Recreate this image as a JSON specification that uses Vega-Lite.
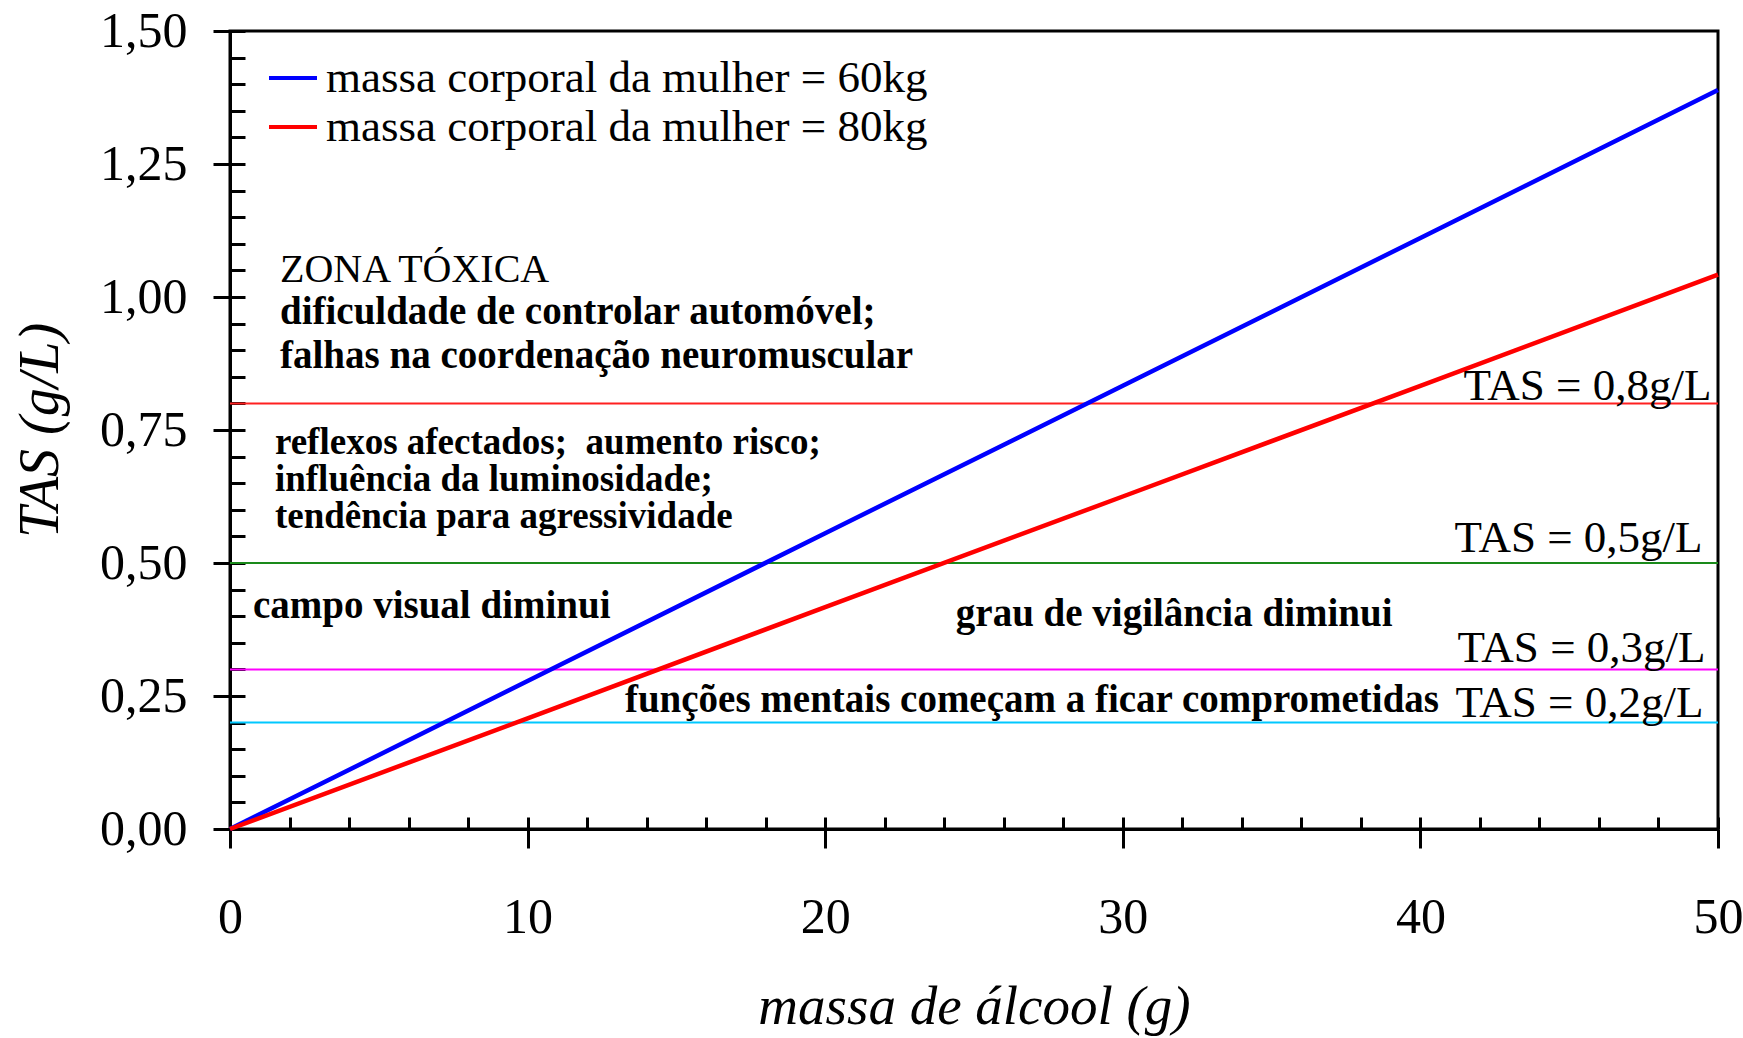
{
  "$schema": "https://vega.github.io/schema/vega-lite/v6.json",
  "width": 1488,
  "height": 798,
  "autosize": "none",
  "padding": {"left": 230, "top": 31, "right": 25, "bottom": 209},
  "background": "white",
  "config": {
    "view": {"stroke": "black", "strokeWidth": 3},
    "font": "Liberation Serif",
    "axis": {"grid": false, "domainColor": "black", "tickColor": "black", "labelColor": "black", "titleColor": "black", "domainWidth": 3, "tickWidth": 3, "labelFont": "Liberation Serif", "titleFont": "Liberation Serif", "titleFontWeight": "normal"}
  },
  "datasets": {
    "series": [
      {"mass": 0, "tas": 0, "s": "massa corporal da mulher = 60kg"},
      {"mass": 10, "tas": 0.278, "s": "massa corporal da mulher = 60kg"},
      {"mass": 20, "tas": 0.556, "s": "massa corporal da mulher = 60kg"},
      {"mass": 30, "tas": 0.833, "s": "massa corporal da mulher = 60kg"},
      {"mass": 40, "tas": 1.111, "s": "massa corporal da mulher = 60kg"},
      {"mass": 50, "tas": 1.389, "s": "massa corporal da mulher = 60kg"},
      {"mass": 0, "tas": 0, "s": "massa corporal da mulher = 80kg"},
      {"mass": 10, "tas": 0.208, "s": "massa corporal da mulher = 80kg"},
      {"mass": 20, "tas": 0.417, "s": "massa corporal da mulher = 80kg"},
      {"mass": 30, "tas": 0.625, "s": "massa corporal da mulher = 80kg"},
      {"mass": 40, "tas": 0.833, "s": "massa corporal da mulher = 80kg"},
      {"mass": 50, "tas": 1.042, "s": "massa corporal da mulher = 80kg"}
    ],
    "limits": [
      {"v": 0.8, "c": "#ff2020", "t": "TAS = 0,8g/L", "tx": 49.78, "ty": 0.806},
      {"v": 0.5, "c": "#1a8a1a", "t": "TAS = 0,5g/L", "tx": 49.48, "ty": 0.5207},
      {"v": 0.3, "c": "#ff00ff", "t": "TAS = 0,3g/L", "tx": 49.58, "ty": 0.314},
      {"v": 0.2, "c": "#00c8ff", "t": "TAS = 0,2g/L", "tx": 49.51, "ty": 0.2105}
    ],
    "notes": [
      {"t": "dificuldade de controlar automóvel;", "x": 1.68, "y": 0.9718},
      {"t": "falhas na coordenação neuromuscular", "x": 1.68, "y": 0.889},
      {"t": "campo visual diminui", "x": 0.77, "y": 0.419},
      {"t": "grau de vigilância diminui", "x": 24.39, "y": 0.404},
      {"t": "funções mentais começam a ficar comprometidas", "x": 13.27, "y": 0.2425}
    ],
    "block": [
      {"t": "reflexos afectados;\u00a0 aumento risco;\ninfluência da luminosidade;\ntendência para agressividade", "x": 1.51, "y": 0.726}
    ],
    "zone": [
      {"t": "ZONA TÓXICA", "x": 1.68, "y": 1.0508}
    ]
  },
  "resolve": {"axis": {"x": "independent", "y": "independent"}},
  "layer": [
    {
      "data": {"name": "limits"},
      "mark": {"type": "rule", "strokeWidth": 2},
      "encoding": {
        "y": {"field": "v", "type": "quantitative", "scale": {"domain": [0, 1.5], "nice": false, "zero": false},
          "axis": {"orient": "left", "values": [0, 0.05, 0.1, 0.15, 0.2, 0.25, 0.3, 0.35, 0.4, 0.45, 0.5, 0.55, 0.6, 0.65, 0.7, 0.75, 0.8, 0.85, 0.9, 0.95, 1.0, 1.05, 1.1, 1.15, 1.2, 1.25, 1.3, 1.35, 1.4, 1.45, 1.5], "tickSize": -15, "labels": false, "domain": false, "title": null}},
        "stroke": {"field": "c", "type": "nominal", "scale": null}
      }
    },
    {
      "data": {"name": "series"},
      "mark": {"type": "line", "strokeWidth": 4.5},
      "encoding": {
        "x": {"field": "mass", "type": "quantitative", "scale": {"domain": [0, 50], "nice": false},
          "axis": {"orient": "bottom", "values": [0, 10, 20, 30, 40, 50], "tickSize": 19, "labelFontSize": 50, "labelPadding": 44, "labelFlush": false, "labelOverlap": false, "title": "massa de álcool  (g)", "titleFontSize": 55, "titleFontStyle": "italic", "titlePadding": 38}},
        "y": {"field": "tas", "type": "quantitative", "scale": {"domain": [0, 1.5], "nice": false},
          "axis": {"orient": "left", "values": [0, 0.25, 0.5, 0.75, 1.0, 1.25, 1.5], "tickSize": 17, "labelFontSize": 50, "labelPadding": 26, "labelFlush": false, "labelOverlap": false, "labelExpr": "replace(format(datum.value, '.2f'), '.', ',')", "title": "TAS  (g/L)", "titleFontSize": 56, "titleFontStyle": "italic", "titlePadding": 30}},
        "color": {"field": "s", "type": "nominal",
          "scale": {"domain": ["massa corporal da mulher = 60kg", "massa corporal da mulher = 80kg"], "range": ["#0000ff", "#ff0000"]},
          "legend": {"orient": "none", "legendX": 37, "legendY": 21, "title": null, "padding": 0, "symbolType": "stroke", "symbolSize": 2304, "symbolStrokeWidth": 4, "labelFontSize": 45, "labelFont": "Liberation Serif", "labelColor": "black", "labelOffset": 7, "rowPadding": 0, "labelLimit": 1000}}
      }
    },
    {
      "data": {"name": "notes"},
      "mark": {"type": "text", "align": "left", "baseline": "middle", "fontSize": 39, "fontWeight": "bold", "font": "Liberation Serif", "color": "black"},
      "encoding": {
        "x": {"field": "x", "type": "quantitative",
          "axis": {"orient": "bottom", "values": [0, 2, 4, 6, 8, 10, 12, 14, 16, 18, 20, 22, 24, 26, 28, 30, 32, 34, 36, 38, 40, 42, 44, 46, 48, 50], "tickSize": -12, "labels": false, "domain": false, "title": null}},
        "y": {"field": "y", "type": "quantitative", "axis": null},
        "text": {"field": "t"}
      }
    },
    {
      "data": {"name": "block"},
      "mark": {"type": "text", "align": "left", "baseline": "middle", "fontSize": 37, "fontWeight": "bold", "font": "Liberation Serif", "color": "black", "lineBreak": "\n", "lineHeight": 37},
      "encoding": {
        "x": {"field": "x", "type": "quantitative", "axis": null},
        "y": {"field": "y", "type": "quantitative", "axis": null},
        "text": {"field": "t"}
      }
    },
    {
      "data": {"name": "zone"},
      "mark": {"type": "text", "align": "left", "baseline": "middle", "fontSize": 40, "font": "Liberation Serif", "color": "black"},
      "encoding": {
        "x": {"field": "x", "type": "quantitative", "axis": null},
        "y": {"field": "y", "type": "quantitative", "axis": null},
        "text": {"field": "t"}
      }
    },
    {
      "data": {"name": "limits"},
      "mark": {"type": "text", "align": "right", "baseline": "alphabetic", "fontSize": 45, "font": "Liberation Serif", "color": "black"},
      "encoding": {
        "x": {"field": "tx", "type": "quantitative", "axis": null},
        "y": {"field": "ty", "type": "quantitative", "axis": null},
        "text": {"field": "t"}
      }
    }
  ]
}
